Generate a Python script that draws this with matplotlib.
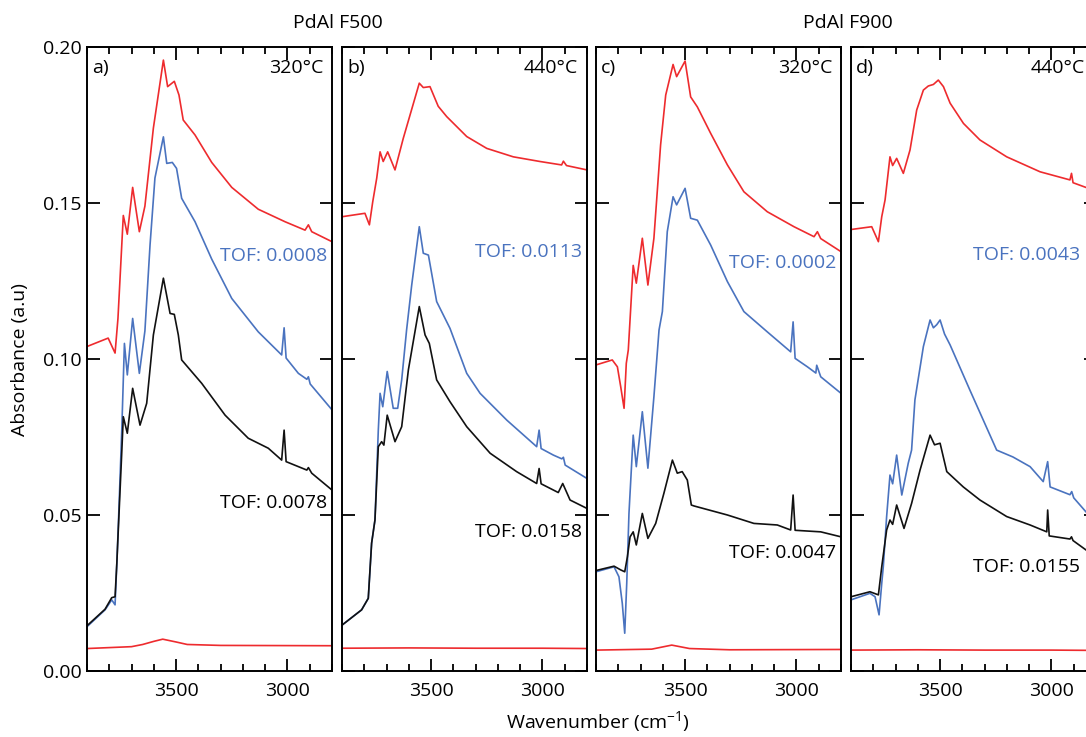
import matplotlib
matplotlib.use("Agg")
import matplotlib.pyplot as plt
from matplotlib.ticker import MultipleLocator, FormatStrFormatter, NullFormatter

plt.rcParams['font.family'] = ['Open Sans', 'DejaVu Sans']
plt.rcParams['mathtext.fontset'] = 'custom'
plt.rcParams['mathtext.rm'] = 'Open Sans'
plt.rcParams['mathtext.default'] = 'regular'

RED = '#ee2b2e'
BLUE = '#4a73bf'
BLACK = '#111111'

# ---- panel a) PdAl F500, 320 C ----
a_red_wn = [3900, 3805, 3774, 3761, 3737, 3719, 3695, 3665, 3640, 3602, 3557, 3538, 3508, 3487, 3468,
            3415, 3340, 3250, 3131, 3011, 2921, 2906, 2891, 2800]
a_red_ab = [0.104, 0.1067, 0.1019, 0.113, 0.146, 0.140, 0.155, 0.1408, 0.149, 0.174, 0.1958, 0.1873, 0.189,
            0.1846, 0.1766, 0.1718, 0.163, 0.155, 0.148, 0.144, 0.1413, 0.143, 0.1408, 0.1376]
a_blue_wn = [3900, 3819, 3789, 3774, 3766, 3759, 3744, 3732, 3719, 3695, 3665, 3640, 3617, 3595, 3557, 3542,
             3517, 3498, 3475, 3415, 3340, 3250, 3131, 3026, 3015, 3006, 2951, 2913, 2906, 2898, 2800]
a_blue_ab = [0.0142, 0.0196, 0.0228, 0.0212, 0.0346, 0.0474, 0.077, 0.105, 0.0949, 0.113, 0.0954, 0.109,
             0.1365, 0.158, 0.1712, 0.1627, 0.163, 0.1611, 0.1515, 0.144, 0.132, 0.1194, 0.1087, 0.1013,
             0.110, 0.1003, 0.0954, 0.0935, 0.0943, 0.092, 0.0837]
a_black_wn = [3900, 3819, 3789, 3774, 3766, 3759, 3744, 3737, 3719, 3695, 3662, 3632, 3602, 3557, 3527,
              3508, 3490, 3475, 3385, 3280, 3176, 3086, 3026, 3015, 3006, 2913, 2906, 2891, 2800]
a_black_ab = [0.0145, 0.0198, 0.0235, 0.0238, 0.0346, 0.046, 0.070, 0.0815, 0.0762, 0.0906, 0.0788, 0.0858,
              0.1077, 0.1259, 0.1146, 0.1143, 0.1077, 0.0997, 0.0922, 0.082, 0.0746, 0.0714, 0.0676,
              0.0772, 0.0671, 0.0644, 0.0652, 0.0634, 0.058]
a_base_wn = [3900, 3700, 3650, 3600, 3560, 3500, 3450, 3300, 2800]
a_base_ab = [0.0072, 0.0078, 0.0085, 0.0095, 0.0102, 0.0093, 0.0085, 0.0082, 0.0081]

# ---- panel b) PdAl F500, 440 C ----
b_red_wn = [3900, 3797, 3777, 3762, 3744, 3729, 3715, 3695, 3662, 3625, 3553, 3535, 3505, 3468, 3430,
            3340, 3250, 3131, 3011, 2914, 2906, 2892, 2800]
b_red_ab = [0.1456, 0.1467, 0.143, 0.1504, 0.158, 0.1664, 0.1633, 0.1664, 0.1606, 0.1707, 0.1884, 0.187,
            0.1873, 0.181, 0.1777, 0.1713, 0.1675, 0.1648, 0.1633, 0.1622, 0.1634, 0.162, 0.1606]
b_blue_wn = [3900, 3812, 3782, 3767, 3752, 3737, 3729, 3717, 3697, 3670, 3650, 3632, 3610, 3587, 3553,
             3535, 3512, 3475, 3415, 3340, 3280, 3160, 3026, 3015, 3006, 2951, 2913, 2906, 2898, 2800]
b_blue_ab = [0.0147, 0.0196, 0.0233, 0.041, 0.0484, 0.0772, 0.089, 0.0847, 0.096, 0.0842, 0.0842, 0.0933,
             0.1093, 0.1237, 0.1424, 0.1339, 0.1333, 0.1184, 0.1098, 0.0954, 0.089, 0.0804, 0.0719,
             0.0772, 0.0713, 0.0692, 0.068, 0.0685, 0.066, 0.0617]
b_black_wn = [3900, 3812, 3782, 3767, 3752, 3737, 3722, 3712, 3697, 3662, 3632, 3602, 3553, 3527, 3508,
              3475, 3415, 3340, 3235, 3116, 3026, 3015, 3006, 2929, 2909, 2876, 2800]
b_black_ab = [0.0147, 0.0196, 0.0233, 0.041, 0.0484, 0.0719, 0.0735, 0.0724, 0.082, 0.0735, 0.0783, 0.0965,
              0.1168, 0.1077, 0.105, 0.0933, 0.0863, 0.0783, 0.0698, 0.0639, 0.0601, 0.0649, 0.060,
              0.0572, 0.0601, 0.0548, 0.0521]
b_base_wn = [3900, 3600, 3300, 3000, 2800]
b_base_ab = [0.0073, 0.0074, 0.0073, 0.0073, 0.0072]

# ---- panel c) PdAl F900, 320 C ----
c_red_wn = [3900, 3827, 3804, 3789, 3774, 3764, 3755, 3752, 3733, 3719, 3692, 3667, 3640, 3610, 3587,
            3554, 3538, 3500, 3475, 3445, 3385, 3310, 3236, 3131, 3011, 2921, 2906, 2891, 2800]
c_red_ab = [0.0981, 0.0997, 0.0975, 0.0911, 0.0842, 0.0986, 0.1029, 0.1066, 0.130, 0.1243, 0.1387, 0.1237,
            0.1387, 0.1686, 0.1846, 0.1944, 0.1905, 0.1955, 0.184, 0.1808, 0.1723, 0.1622, 0.1536,
            0.1472, 0.1424, 0.1392, 0.1408, 0.1386, 0.1344]
c_blue_wn = [3900, 3819, 3797, 3782, 3771, 3762, 3752, 3733, 3719, 3692, 3667, 3640, 3617, 3602, 3580,
             3554, 3538, 3500, 3475, 3445, 3385, 3310, 3236, 3131, 3026, 3015, 3006, 2951, 2913, 2909,
             2891, 2800]
c_blue_ab = [0.0318, 0.0334, 0.0302, 0.0217, 0.0121, 0.0281, 0.0505, 0.0756, 0.0655, 0.0831, 0.065, 0.0879,
             0.1093, 0.1152, 0.1408, 0.152, 0.1494, 0.1547, 0.1451, 0.1445, 0.1365, 0.1248, 0.1152,
             0.1087, 0.1023, 0.1119, 0.1002, 0.0975, 0.0955, 0.098, 0.0943, 0.089]
c_black_wn = [3900, 3819, 3789, 3771, 3759, 3747, 3733, 3719, 3692, 3667, 3632, 3595, 3557, 3535, 3513,
              3490, 3472, 3460, 3310, 3191, 3086, 3026, 3015, 3006, 2891, 2800]
c_black_ab = [0.0322, 0.0336, 0.0324, 0.0318, 0.0366, 0.043, 0.0446, 0.0404, 0.0505, 0.0425, 0.0473, 0.057,
              0.0676, 0.0634, 0.0639, 0.0612, 0.0532, 0.0529, 0.050, 0.0473, 0.0468, 0.0452, 0.0564,
              0.0451, 0.0446, 0.043]
c_base_wn = [3900, 3650, 3560, 3480, 3300, 2800]
c_base_ab = [0.0067, 0.0070, 0.0083, 0.0072, 0.0068, 0.0069]

# ---- panel d) PdAl F900, 440 C ----
d_red_wn = [3900, 3807, 3777, 3762, 3747, 3725, 3713, 3695, 3665, 3635, 3605, 3575, 3553, 3530, 3508,
            3485, 3455, 3395, 3321, 3201, 3051, 2917, 2910, 2903, 2834, 2800]
d_red_ab = [0.1415, 0.1424, 0.1376, 0.1456, 0.151, 0.1648, 0.162, 0.1643, 0.1595, 0.167, 0.1798, 0.1862,
            0.1875, 0.188, 0.1894, 0.1873, 0.182, 0.1755, 0.1702, 0.1648, 0.160, 0.1574, 0.1595,
            0.1565, 0.1547, 0.1535]
d_blue_wn = [3900, 3815, 3792, 3774, 3762, 3755, 3740, 3725, 3713, 3695, 3672, 3643, 3628, 3613, 3575,
             3545, 3530, 3515, 3500, 3480, 3455, 3366, 3246, 3173, 3096, 3037, 3017, 3006, 2917, 2909,
             2900, 2845, 2800]
d_blue_ab = [0.0228, 0.0249, 0.0238, 0.018, 0.0281, 0.0334, 0.0495, 0.0628, 0.060, 0.0692, 0.0564, 0.0666,
             0.0708, 0.0869, 0.104, 0.1125, 0.110, 0.111, 0.1125, 0.108, 0.1045, 0.090, 0.0708, 0.0686,
             0.0655, 0.0607, 0.0671, 0.059, 0.0565, 0.0575, 0.0555, 0.051, 0.048]
d_black_wn = [3900, 3815, 3777, 3762, 3740, 3725, 3713, 3695, 3662, 3628, 3590, 3545, 3525, 3500, 3470,
              3396, 3321, 3201, 3096, 3021, 3017, 3010, 2917, 2910, 2903, 2845, 2800]
d_black_ab = [0.0238, 0.0254, 0.0244, 0.0334, 0.0452, 0.0484, 0.047, 0.0532, 0.0457, 0.0537, 0.0644,
              0.0756, 0.0725, 0.0730, 0.0639, 0.059, 0.0548, 0.0495, 0.0468, 0.0446, 0.0516, 0.0433,
              0.0423, 0.043, 0.0418, 0.0388, 0.037]
d_base_wn = [3900, 3600, 3300, 3000, 2800]
d_base_ab = [0.0067, 0.0068, 0.0067, 0.0067, 0.0066]

panel_labels = ['a)', 'b)', 'c)', 'd)']
temperatures = ['320°C', '440°C', '320°C', '440°C']
tof_blue = ['TOF: 0.0008', 'TOF: 0.0113', 'TOF: 0.0002', 'TOF: 0.0043']
tof_black = ['TOF: 0.0078', 'TOF: 0.0158', 'TOF: 0.0047', 'TOF: 0.0155']
group_titles = ['PdAl F500', 'PdAl F900']

panels = [
    (a_red_wn, a_red_ab, a_blue_wn, a_blue_ab, a_black_wn, a_black_ab, a_base_wn, a_base_ab),
    (b_red_wn, b_red_ab, b_blue_wn, b_blue_ab, b_black_wn, b_black_ab, b_base_wn, b_base_ab),
    (c_red_wn, c_red_ab, c_blue_wn, c_blue_ab, c_black_wn, c_black_ab, c_base_wn, c_base_ab),
    (d_red_wn, d_red_ab, d_blue_wn, d_blue_ab, d_black_wn, d_black_ab, d_base_wn, d_base_ab),
]

W, H = 1086, 737
fig = plt.figure(figsize=(W / 100, H / 100), dpi=100)

# the last panel runs past the right edge of the figure, as in the original
lefts = [87, 342, 596, 851]
pw, top, bottom = 245, 47, 671
# y positions (pixels) of the TOF labels in each panel
blue_y = [256, 252, 263, 255]
black_y = [503, 532, 553, 567]
FS = 14

for i, (rw, ra, bw, ba, kw, ka, zw, za) in enumerate(panels):
    ax = fig.add_axes([lefts[i] / W, (H - bottom) / H, pw / W, (bottom - top) / H])
    ax.plot(rw, ra, color=RED, lw=1.2)
    ax.plot(bw, ba, color=BLUE, lw=1.2)
    ax.plot(kw, ka, color=BLACK, lw=1.2)
    ax.plot(zw, za, color=RED, lw=1.2)
    ax.set_xlim(3900, 2800)
    ax.set_ylim(0, 0.2)
    ax.xaxis.set_major_locator(MultipleLocator(500))
    ax.xaxis.set_minor_locator(MultipleLocator(100))
    ax.yaxis.set_major_locator(MultipleLocator(0.05))
    ax.tick_params(which='both', direction='in', top=True, right=True, width=1.3, colors='black')
    ax.tick_params(which='major', length=9, labelsize=FS, pad=8)
    ax.tick_params(which='minor', length=5)
    ax.tick_params(axis='y', which='major', pad=4)
    for s in ax.spines.values():
        s.set_linewidth(1.4)
    if i == 0:
        ax.yaxis.set_major_formatter(FormatStrFormatter('%.2f'))
    else:
        ax.yaxis.set_major_formatter(NullFormatter())

    def px2ax(px, py):
        return (px - lefts[i]) / pw, (bottom - py) / (bottom - top)

    ax.text(*px2ax(lefts[i] + 5, 68), panel_labels[i], transform=ax.transAxes,
            fontsize=FS, ha='left', va='center')
    if i < 3:
        ax.text(*px2ax(lefts[i] + 236, 68), temperatures[i], transform=ax.transAxes,
                fontsize=FS, ha='right', va='center')
        ax.text(*px2ax(lefts[i] + 240, blue_y[i]), tof_blue[i], transform=ax.transAxes,
                fontsize=FS, ha='right', va='center', color=BLUE)
        ax.text(*px2ax(lefts[i] + 240, black_y[i]), tof_black[i], transform=ax.transAxes,
                fontsize=FS, ha='right', va='center', color='black')
    else:
        ax.text(*px2ax(1031, 68), temperatures[i], transform=ax.transAxes,
                fontsize=FS, ha='left', va='center')
        ax.text(*px2ax(973, blue_y[i]), tof_blue[i], transform=ax.transAxes,
                fontsize=FS, ha='left', va='center', color=BLUE)
        ax.text(*px2ax(973, black_y[i]), tof_black[i], transform=ax.transAxes,
                fontsize=FS, ha='left', va='center', color='black')

fig.text(338 / W, 1 - 23 / H, group_titles[0], fontsize=FS, ha='center', va='center')
fig.text(848 / W, 1 - 23 / H, group_titles[1], fontsize=FS, ha='center', va='center')
fig.text(20 / W, 1 - 360 / H, 'Absorbance (a.u)', fontsize=FS, rotation=90, ha='center', va='center')
fig.text(598 / W, 1 - 722 / H, 'Wavenumber (cm$^{-1}$)', fontsize=FS, ha='center', va='center')

fig.savefig('out.png', dpi=100)
